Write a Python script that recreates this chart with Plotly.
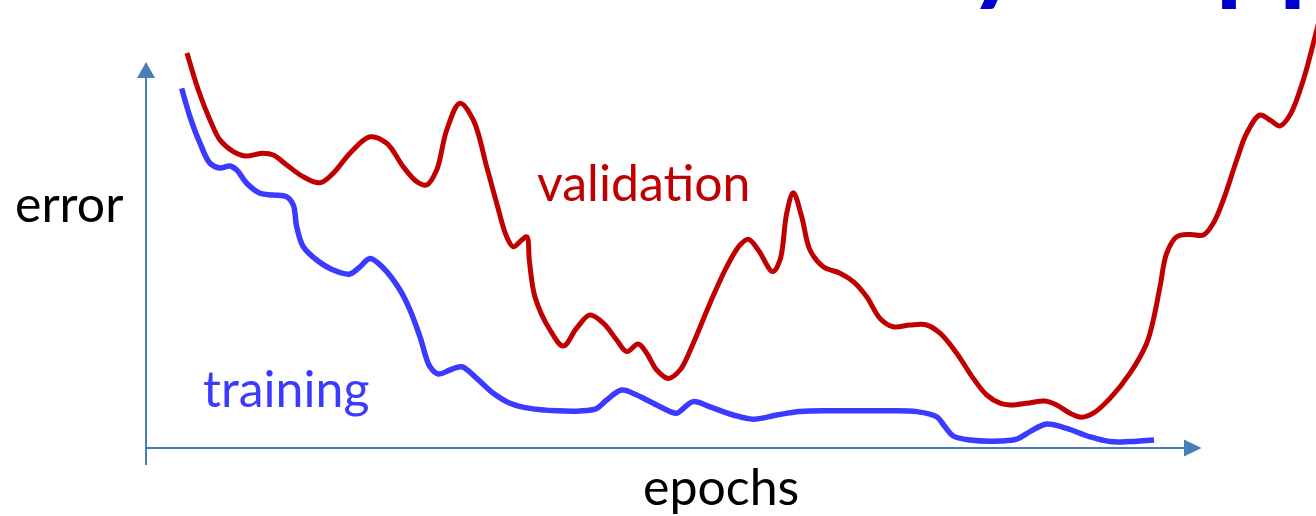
import plotly.graph_objects as go

# Training / validation error per epoch
val_epochs = [4.1, 5.23, 6.4, 7.4, 8.73, 9.9, 11.73, 12.73, 14.07, 15.73, 17.4, 18.73, 20.4, 22.4,
              24.07, 25.73, 27.07, 28.07, 29.07, 30.07, 31.4, 32.73, 34.07, 35.07, 36.07, 36.73,
              37.57, 38.07, 38.35, 38.9, 40.4, 41.73, 43.07, 44.4, 45.73, 47.07, 48.07, 49.23,
              50.07, 51.07, 52.23, 53.4, 54.73, 56.4, 58.07, 59.4, 60.23, 61.23, 62.67, 63.4,
              64.07, 64.73, 65.57, 66.4, 67.73, 69.4, 70.73, 72.07, 73.4, 74.73, 76.4, 78.07,
              79.4, 81.07, 82.73, 84.07, 85.4, 86.4, 88.07, 89.9, 91.07, 92.4, 93.57, 94.73,
              96.4, 98.4, 100.07, 100.73, 101.4, 102.07, 103.07, 104.4, 105.73, 106.73, 107.73,
              109.07, 110.07, 111.4, 112.4, 113.4, 114.4, 115.73, 116.9, 117.6]
val_error = [0.9875, 0.895, 0.82, 0.77, 0.741, 0.73, 0.737, 0.7325, 0.7075, 0.678, 0.663, 0.687,
             0.737, 0.778, 0.762, 0.703, 0.666, 0.6575, 0.695, 0.795, 0.862, 0.82, 0.703, 0.612,
             0.528, 0.503, 0.52, 0.528, 0.465, 0.3775, 0.295, 0.255, 0.30, 0.3325, 0.312, 0.27,
             0.241, 0.26, 0.237, 0.195, 0.174, 0.195, 0.262, 0.362, 0.453, 0.5075, 0.522, 0.495,
             0.441, 0.47, 0.587, 0.638, 0.578, 0.495, 0.453, 0.437, 0.416, 0.378, 0.324, 0.303,
             0.3075, 0.3075, 0.287, 0.237, 0.174, 0.1325, 0.112, 0.1075, 0.112, 0.1175, 0.1075,
             0.087, 0.077, 0.087, 0.124, 0.187, 0.262, 0.32, 0.403, 0.487, 0.528, 0.534, 0.5325,
             0.562, 0.62, 0.72, 0.787, 0.8325, 0.82, 0.805, 0.8325, 0.92, 1.028, 1.095]

train_epochs = [3.57, 4.4, 5.4, 6.4, 7.4, 8.4, 9.07, 10.07, 11.4, 12.73, 14.07, 14.73, 15.07,
                15.73, 17.07, 18.73, 20.4, 21.4, 22.4, 23.73, 25.4, 26.4, 27.4, 28.4, 29.23,
                30.4, 31.57, 33.07, 34.73, 36.4, 38.4, 41.07, 43.4, 45.07, 46.07, 47.57, 49.07,
                51.07, 53.07, 53.73, 54.73, 56.4, 58.73, 60.73, 63.07, 65.4, 68.73, 73.73, 77.07,
                79.07, 79.9, 80.73, 82.4, 85.4, 87.07, 88.4, 90.07, 92.07, 94.4, 96.4, 98.4, 100.8]
train_error = [0.899, 0.828, 0.762, 0.712, 0.70, 0.705, 0.695, 0.662, 0.637, 0.6325, 0.628,
               0.6075, 0.553, 0.503, 0.47, 0.445, 0.435, 0.453, 0.474, 0.45, 0.395, 0.345,
               0.278, 0.203, 0.185, 0.195, 0.203, 0.174, 0.137, 0.112, 0.099, 0.093, 0.0925,
               0.099, 0.12, 0.145, 0.1325, 0.1075, 0.087, 0.099, 0.116, 0.103, 0.0825, 0.072,
               0.0825, 0.091, 0.093, 0.093, 0.091, 0.078, 0.053, 0.03, 0.02, 0.0175, 0.022,
               0.041, 0.06, 0.049, 0.028, 0.016, 0.016, 0.02]

TITLE = "for Neural Net: Early Stopping"
RED = "#C00000"
BLUE = "#3B3BFF"
AXIS = "#4A7EBB"
FONT = "Lato"
LABEL_SIZE = 50

fig = go.Figure()
fig.add_trace(go.Scatter(x=val_epochs, y=val_error, mode="lines",
                         line=dict(color=RED, width=5, shape="spline", smoothing=1.0),
                         hoverinfo="skip"))
fig.add_trace(go.Scatter(x=train_epochs, y=train_error, mode="lines",
                         line=dict(color=BLUE, width=5.5, shape="spline", smoothing=1.0),
                         hoverinfo="skip"))

# slide heading, running off the top edge of the figure
fig.add_trace(go.Scatter(x=[-14.1], y=[1.074], mode="text", text=[TITLE],
                         textposition="top right", cliponaxis=False, hoverinfo="skip",
                         textfont=dict(family=FONT, size=112, color="#0000CC", weight="bold")))

# hand-drawn style axes with arrow heads
shapes = [
    dict(type="line", xref="x", yref="y", x0=0, y0=0, x1=104.0, y1=0,
         line=dict(color=AXIS, width=2)),
    dict(type="line", xref="x", yref="y", x0=0, y0=-0.0425, x1=0, y1=0.93,
         line=dict(color=AXIS, width=2)),
    dict(type="path", xref="x", yref="y", path="M 103.8,0.0215 L 105.55,0 L 103.8,-0.0215 Z",
         fillcolor=AXIS, line=dict(color=AXIS, width=0)),
    dict(type="path", xref="x", yref="y", path="M -0.9,0.925 L 0,0.965 L 0.9,0.925 Z",
         fillcolor=AXIS, line=dict(color=AXIS, width=0)),
]

annotations = [
    dict(text="error", x=-13.3, y=0.6125, xref="x", yref="y", xanchor="left", yanchor="middle",
         showarrow=False, font=dict(family=FONT, size=LABEL_SIZE, color="black")),
    dict(text="epochs", x=49.5, y=-0.095, xref="x", yref="y", xanchor="left", yanchor="middle",
         showarrow=False, font=dict(family=FONT, size=LABEL_SIZE, color="black")),
    dict(text="validation", x=38.9, y=0.665, xref="x", yref="y", xanchor="left", yanchor="middle",
         showarrow=False, font=dict(family=FONT, size=LABEL_SIZE, color=RED)),
    dict(text="training", x=5.5, y=0.15, xref="x", yref="y", xanchor="left", yanchor="middle",
         showarrow=False, font=dict(family=FONT, size=LABEL_SIZE, color=BLUE)),
]

fig.update_layout(
    width=1316, height=516,
    margin=dict(l=0, r=0, t=0, b=0),
    paper_bgcolor="white", plot_bgcolor="white",
    showlegend=False,
    shapes=shapes, annotations=annotations,
    xaxis=dict(range=[-14.6, 117.0], visible=False, fixedrange=True),
    yaxis=dict(range=[-0.17, 1.12], visible=False, fixedrange=True),
)

fig.write_html("out.html")
